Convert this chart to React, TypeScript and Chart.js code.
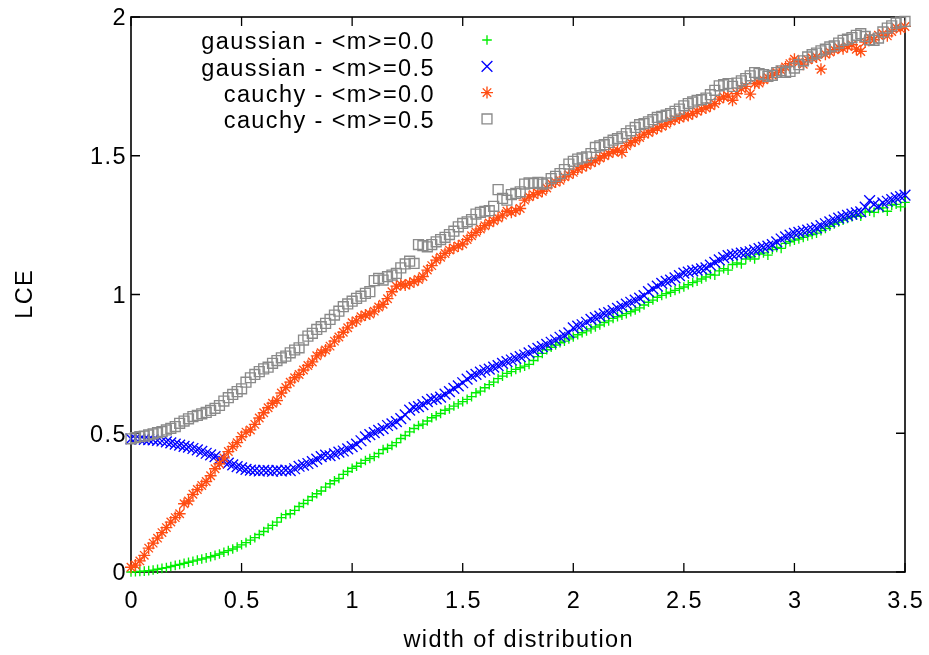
import React, { useEffect, useRef } from "react";
import { Chart, registerables } from "chart.js";

Chart.register(...registerables);

// ---------- data ----------
const xValues = [
  0, 0.02, 0.04, 0.06, 0.08, 0.1, 0.12, 0.14, 0.16, 0.18,
  0.2, 0.22, 0.24, 0.26, 0.28, 0.3, 0.32, 0.34, 0.36, 0.38,
  0.4, 0.42, 0.44, 0.46, 0.48, 0.5, 0.52, 0.54, 0.56, 0.58,
  0.6, 0.62, 0.64, 0.66, 0.68, 0.7, 0.72, 0.74, 0.76, 0.78,
  0.8, 0.82, 0.84, 0.86, 0.88, 0.9, 0.92, 0.94, 0.96, 0.98,
  1.0, 1.02, 1.04, 1.06, 1.08, 1.1, 1.12, 1.14, 1.16, 1.18,
  1.2, 1.22, 1.24, 1.26, 1.28, 1.3, 1.32, 1.34, 1.36, 1.38,
  1.4, 1.42, 1.44, 1.46, 1.48, 1.5, 1.52, 1.54, 1.56, 1.58,
  1.6, 1.62, 1.64, 1.66, 1.68, 1.7, 1.72, 1.74, 1.76, 1.78,
  1.8, 1.82, 1.84, 1.86, 1.88, 1.9, 1.92, 1.94, 1.96, 1.98,
  2.0, 2.02, 2.04, 2.06, 2.08, 2.1, 2.12, 2.14, 2.16, 2.18,
  2.2, 2.22, 2.24, 2.26, 2.28, 2.3, 2.32, 2.34, 2.36, 2.38,
  2.4, 2.42, 2.44, 2.46, 2.48, 2.5, 2.52, 2.54, 2.56, 2.58,
  2.6, 2.62, 2.64, 2.66, 2.68, 2.7, 2.72, 2.74, 2.76, 2.78,
  2.8, 2.82, 2.84, 2.86, 2.88, 2.9, 2.92, 2.94, 2.96, 2.98,
  3.0, 3.02, 3.04, 3.06, 3.08, 3.1, 3.12, 3.14, 3.16, 3.18,
  3.2, 3.22, 3.24, 3.26, 3.28, 3.3, 3.32, 3.34, 3.36, 3.38,
  3.4, 3.42, 3.44, 3.46, 3.48, 3.5,
];

const gaussianM00 = [
  0.000, 0.001, 0.002, 0.003, 0.005, 0.007, 0.010, 0.013, 0.016, 0.020,
  0.024, 0.027, 0.031, 0.035, 0.039, 0.043, 0.047, 0.051, 0.055, 0.060,
  0.065, 0.071, 0.077, 0.083, 0.090, 0.098, 0.106, 0.115, 0.124, 0.135,
  0.146, 0.158, 0.168, 0.180, 0.196, 0.207, 0.210, 0.222, 0.236, 0.247,
  0.258, 0.271, 0.282, 0.292, 0.306, 0.318, 0.329, 0.337, 0.352, 0.362,
  0.374, 0.381, 0.392, 0.402, 0.409, 0.416, 0.427, 0.441, 0.446, 0.456,
  0.466, 0.481, 0.492, 0.505, 0.517, 0.528, 0.533, 0.544, 0.556, 0.563,
  0.571, 0.583, 0.588, 0.598, 0.606, 0.614, 0.622, 0.632, 0.646, 0.652,
  0.664, 0.675, 0.684, 0.697, 0.706, 0.716, 0.722, 0.730, 0.736, 0.742,
  0.748, 0.762, 0.776, 0.788, 0.801, 0.810, 0.818, 0.826, 0.832, 0.840,
  0.847, 0.855, 0.862, 0.869, 0.876, 0.883, 0.890, 0.899, 0.905, 0.914,
  0.920, 0.925, 0.931, 0.938, 0.944, 0.952, 0.962, 0.972, 0.980, 0.990,
  0.997, 1.003, 1.008, 1.015, 1.021, 1.027, 1.035, 1.043, 1.048, 1.056,
  1.063, 1.072, 1.070, 1.085, 1.093, 1.088, 1.108, 1.114, 1.110, 1.128,
  1.135, 1.128, 1.146, 1.150, 1.142, 1.162, 1.170, 1.166, 1.184, 1.190,
  1.196, 1.200, 1.206, 1.211, 1.216, 1.221, 1.230, 1.238, 1.246, 1.254,
  1.261, 1.268, 1.274, 1.280, 1.286, 1.282, 1.297, 1.300, 1.296, 1.310,
  1.312, 1.300, 1.322, 1.325, 1.316, 1.332,
];

const gaussianM05 = [
  0.480, 0.481, 0.479, 0.478, 0.477, 0.476, 0.474, 0.472, 0.469, 0.465,
  0.461, 0.457, 0.453, 0.450, 0.445, 0.440, 0.435, 0.428, 0.422, 0.416,
  0.408, 0.399, 0.392, 0.386, 0.380, 0.375, 0.370, 0.367, 0.366, 0.364,
  0.366, 0.365, 0.363, 0.366, 0.364, 0.367, 0.365, 0.372, 0.381, 0.385,
  0.391, 0.398, 0.407, 0.416, 0.421, 0.419, 0.426, 0.432, 0.436, 0.444,
  0.452, 0.461, 0.473, 0.487, 0.495, 0.502, 0.510, 0.517, 0.528, 0.534,
  0.542, 0.553, 0.566, 0.583, 0.592, 0.596, 0.603, 0.614, 0.622, 0.624,
  0.630, 0.641, 0.650, 0.662, 0.671, 0.682, 0.695, 0.706, 0.712, 0.720,
  0.727, 0.731, 0.738, 0.744, 0.752, 0.758, 0.764, 0.770, 0.776, 0.782,
  0.790, 0.798, 0.806, 0.812, 0.820, 0.828, 0.836, 0.846, 0.853, 0.862,
  0.880, 0.886, 0.891, 0.900, 0.910, 0.917, 0.922, 0.930, 0.935, 0.942,
  0.950, 0.957, 0.965, 0.972, 0.980, 0.987, 0.996, 1.010, 1.020, 1.030,
  1.040, 1.047, 1.052, 1.060, 1.068, 1.077, 1.081, 1.085, 1.088, 1.092,
  1.096, 1.106, 1.116, 1.125, 1.133, 1.140, 1.143, 1.146, 1.149, 1.151,
  1.154, 1.160, 1.165, 1.170, 1.174, 1.180, 1.190, 1.200, 1.208, 1.214,
  1.220, 1.224, 1.228, 1.232, 1.236, 1.240, 1.248, 1.255, 1.262, 1.268,
  1.275, 1.280, 1.285, 1.290, 1.294, 1.298, 1.315, 1.338, 1.325, 1.318,
  1.330, 1.336, 1.342, 1.348, 1.353, 1.358,
];

const cauchyM00 = [
  0.017, 0.025, 0.040, 0.060, 0.086, 0.104, 0.122, 0.142, 0.160, 0.180,
  0.196, 0.210, 0.246, 0.256, 0.280, 0.297, 0.312, 0.326, 0.347, 0.372,
  0.390, 0.411, 0.434, 0.452, 0.466, 0.488, 0.504, 0.512, 0.532, 0.555,
  0.574, 0.592, 0.608, 0.618, 0.645, 0.665, 0.684, 0.700, 0.712, 0.728,
  0.744, 0.757, 0.779, 0.790, 0.800, 0.814, 0.832, 0.847, 0.864, 0.880,
  0.898, 0.905, 0.920, 0.926, 0.930, 0.940, 0.955, 0.965, 0.985, 1.010,
  1.030, 1.036, 1.034, 1.040, 1.046, 1.054, 1.065, 1.088, 1.104, 1.124,
  1.134, 1.148, 1.160, 1.168, 1.175, 1.182, 1.198, 1.212, 1.224, 1.236,
  1.248, 1.258, 1.266, 1.276, 1.286, 1.300, 1.296, 1.302, 1.310, 1.340,
  1.352, 1.360, 1.366, 1.372, 1.384, 1.400, 1.405, 1.412, 1.424, 1.432,
  1.440, 1.452, 1.458, 1.466, 1.475, 1.482, 1.492, 1.500, 1.508, 1.515,
  1.520, 1.512, 1.536, 1.548, 1.554, 1.566, 1.578, 1.584, 1.592, 1.600,
  1.606, 1.614, 1.625, 1.632, 1.636, 1.642, 1.645, 1.652, 1.660, 1.668,
  1.672, 1.680, 1.688, 1.704, 1.712, 1.715, 1.700, 1.724, 1.742, 1.750,
  1.722, 1.760, 1.762, 1.774, 1.782, 1.790, 1.800, 1.808, 1.820, 1.832,
  1.848, 1.838, 1.830, 1.846, 1.852, 1.856, 1.812, 1.866, 1.874, 1.882,
  1.890, 1.886, 1.894, 1.900, 1.884, 1.876, 1.910, 1.926, 1.918, 1.934,
  1.940, 1.932, 1.948, 1.962, 1.958, 1.966,
];

const cauchyM05 = [
  0.480, 0.484, 0.488, 0.490, 0.494, 0.498, 0.502, 0.506, 0.512, 0.518,
  0.524, 0.536, 0.544, 0.552, 0.560, 0.564, 0.570, 0.575, 0.582, 0.590,
  0.600, 0.616, 0.628, 0.640, 0.650, 0.660, 0.684, 0.700, 0.712, 0.722,
  0.732, 0.738, 0.752, 0.762, 0.772, 0.778, 0.790, 0.800, 0.808, 0.836,
  0.850, 0.860, 0.874, 0.884, 0.896, 0.910, 0.926, 0.940, 0.956, 0.966,
  0.976, 0.986, 0.994, 1.004, 1.010, 1.050, 1.058, 1.052, 1.064, 1.070,
  1.076, 1.096, 1.110, 1.120, 1.112, 1.180, 1.176, 1.172, 1.180, 1.190,
  1.198, 1.206, 1.216, 1.228, 1.244, 1.256, 1.262, 1.270, 1.290, 1.296,
  1.300, 1.302, 1.318, 1.378, 1.346, 1.340, 1.360, 1.364, 1.370, 1.398,
  1.402, 1.400, 1.404, 1.398, 1.402, 1.418, 1.426, 1.436, 1.450, 1.470,
  1.480, 1.488, 1.492, 1.496, 1.508, 1.530, 1.536, 1.540, 1.548, 1.556,
  1.562, 1.568, 1.580, 1.590, 1.602, 1.612, 1.616, 1.622, 1.630, 1.638,
  1.642, 1.646, 1.652, 1.660, 1.668, 1.680, 1.688, 1.694, 1.700, 1.702,
  1.708, 1.720, 1.736, 1.752, 1.756, 1.760, 1.750, 1.762, 1.770, 1.778,
  1.788, 1.800, 1.796, 1.792, 1.786, 1.790, 1.800, 1.806, 1.800, 1.804,
  1.816, 1.828, 1.842, 1.856, 1.864, 1.870, 1.878, 1.884, 1.892, 1.896,
  1.906, 1.916, 1.920, 1.926, 1.934, 1.940, 1.930, 1.918, 1.916, 1.924,
  1.946, 1.960, 1.968, 1.978, 1.982, 1.984,
];

const seriesLabels = [
  "gaussian - <m>=0.0",
  "gaussian - <m>=0.5",
  "cauchy - <m>=0.0",
  "cauchy - <m>=0.5",
];
const seriesValues = [gaussianM00, gaussianM05, cauchyM00, cauchyM05];

const xTicks = [0, 0.5, 1, 1.5, 2, 2.5, 3, 3.5];
const xTickLabels = ["0", "0.5", "1", "1.5", "2", "2.5", "3", "3.5"];
const yTicks = [0, 0.5, 1, 1.5, 2];
const yTickLabels = ["0", "0.5", "1", "1.5", "2"];
const xTitle = "width of distribution";
const yTitle = "LCE";

// ---------- styles ----------
const seriesColors = ["#00ee00", "#0000ff", "#ff4d12", "#8a8a8a"];
const seriesPointStyles = ["cross", "crossRot", "star", "rect"];
const seriesRadii = [4.8, 7.6, 6, 7];
const POINT_LINE = 1.35;
const FONT = '"Liberation Sans", Arial, Helvetica, sans-serif';
const FONT_SIZE = 23.5;
const LETTER_SPACING = 1.4;

function drawMarker(ctx: CanvasRenderingContext2D, style: string, x: number, y: number, r: number) {
  ctx.beginPath();
  const d = Math.SQRT1_2 * r;
  if (style === "cross" || style === "star") {
    ctx.moveTo(x - r, y);
    ctx.lineTo(x + r, y);
    ctx.moveTo(x, y - r);
    ctx.lineTo(x, y + r);
  }
  if (style === "crossRot" || style === "star") {
    ctx.moveTo(x - d, y - d);
    ctx.lineTo(x + d, y + d);
    ctx.moveTo(x - d, y + d);
    ctx.lineTo(x + d, y - d);
  }
  if (style === "rect") {
    ctx.rect(x - d, y - d, 2 * d, 2 * d);
  }
  ctx.stroke();
}

const gnuplotFrame = {
  id: "gnuplotFrame",
  beforeDatasetsDraw(chart: any) {
    const { ctx, chartArea: a, scales } = chart;
    const xs = scales.x;
    const ys = scales.y;
    ctx.save();
    // border
    ctx.strokeStyle = "#000";
    ctx.lineWidth = 1.6;
    ctx.strokeRect(a.left, a.top, a.right - a.left, a.bottom - a.top);
    // inward ticks (mirrored)
    ctx.lineWidth = 1.3;
    ctx.beginPath();
    const tl = 9;
    xTicks.forEach((v) => {
      const px = xs.getPixelForValue(v);
      ctx.moveTo(px, a.bottom);
      ctx.lineTo(px, a.bottom - tl);
      ctx.moveTo(px, a.top);
      ctx.lineTo(px, a.top + tl);
    });
    yTicks.forEach((v) => {
      const py = ys.getPixelForValue(v);
      ctx.moveTo(a.left, py);
      ctx.lineTo(a.left + tl, py);
      ctx.moveTo(a.right, py);
      ctx.lineTo(a.right - tl, py);
    });
    ctx.stroke();

    // labels
    ctx.fillStyle = "#000";
    ctx.font = `${FONT_SIZE}px ${FONT}`;
    (ctx as any).letterSpacing = `${LETTER_SPACING}px`;
    ctx.textBaseline = "alphabetic";
    ctx.textAlign = "center";
    xTicks.forEach((v, i) => {
      const px = xs.getPixelForValue(v);
      ctx.fillText(xTickLabels[i], px + LETTER_SPACING / 2, a.bottom + 36);
    });
    ctx.textAlign = "right";
    yTicks.forEach((v, i) => {
      const py = ys.getPixelForValue(v);
      ctx.fillText(yTickLabels[i], a.left - 5.5 + LETTER_SPACING, py + 8.4);
    });
    // axis titles
    ctx.textAlign = "center";
    ctx.fillText(xTitle, (a.left + a.right) / 2 + LETTER_SPACING / 2, a.bottom + 75);
    ctx.save();
    ctx.translate(32, (a.top + a.bottom) / 2);
    ctx.rotate(-Math.PI / 2);
    ctx.fillText(yTitle, LETTER_SPACING / 2, 0);
    ctx.restore();
    ctx.restore();
  },
  afterDatasetsDraw(chart: any) {
    const { ctx } = chart;
    ctx.save();
    ctx.fillStyle = "#000";
    ctx.font = `${FONT_SIZE}px ${FONT}`;
    (ctx as any).letterSpacing = `${LETTER_SPACING}px`;
    ctx.textAlign = "right";
    ctx.textBaseline = "alphabetic";
    seriesLabels.forEach((label, i) => {
      const base = 49.3 + 26.3 * i;
      ctx.fillText(label, 433.5 + LETTER_SPACING, base);
      ctx.strokeStyle = seriesColors[i];
      ctx.lineWidth = POINT_LINE;
      drawMarker(ctx, seriesPointStyles[i], 487, base - 9.3, seriesRadii[i]);
    });
    ctx.restore();
  },
};

export default function App() {
  const canvasRef = useRef<HTMLCanvasElement | null>(null);

  useEffect(() => {
    const canvas = canvasRef.current;
    if (!canvas) return;
    const datasets = seriesValues.map((vals, i) => ({
      label: seriesLabels[i],
      data: xValues.map((x, j) => ({ x, y: vals[j] })),
      pointStyle: seriesPointStyles[i],
      pointRadius: seriesRadii[i],
      pointHoverRadius: seriesRadii[i],
      pointBorderWidth: POINT_LINE,
      pointBorderColor: seriesColors[i],
      pointBackgroundColor: "rgba(0,0,0,0)",
      borderColor: seriesColors[i],
      backgroundColor: "rgba(0,0,0,0)",
      showLine: false,
      clip: false as any,
      order: 4 - i,
    }));
    const chart = new Chart(canvas, {
      type: "scatter",
      data: { datasets: datasets as any },
      options: {
        responsive: false,
        animation: false,
        events: [],
        layout: { padding: { left: 131, top: 17, right: 24, bottom: 83 } },
        plugins: {
          legend: { display: false },
          tooltip: { enabled: false },
        },
        scales: {
          x: { type: "linear", min: 0, max: 3.5, display: false },
          y: { type: "linear", min: 0, max: 2, display: false },
        },
      },
      plugins: [gnuplotFrame],
    });
    return () => chart.destroy();
  }, []);

  return (
    <div style={{ position: "absolute", left: 0, top: 0, width: 929, height: 655, background: "#fff" }}>
      <canvas ref={canvasRef} width={929} height={655} style={{ display: "block", width: 929, height: 655 }} />
    </div>
  );
}
